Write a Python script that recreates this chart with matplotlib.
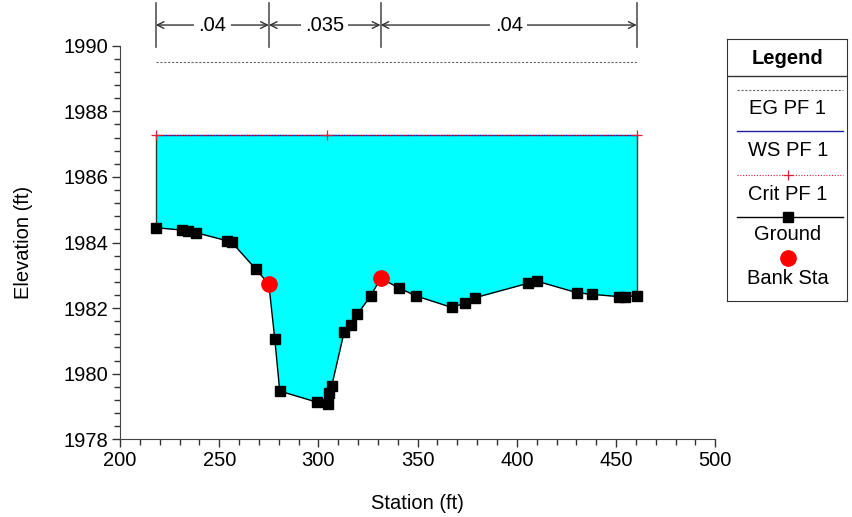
import matplotlib
matplotlib.use('Agg')
import matplotlib.pyplot as plt
import numpy as np
from matplotlib.ticker import MultipleLocator

plt.rcParams['font.family'] = ['Liberation Sans', 'DejaVu Sans']

# ground profile
station = [218.0, 231.1, 234.4, 238.3, 254.1, 256.3, 268.4, 275.0, 278.0, 280.5,
           299.3, 304.7, 305.5, 306.7, 312.9, 316.3, 319.6, 326.4, 331.3, 340.8,
           349.2, 367.2, 373.9, 379.1, 405.8, 410.2, 430.2, 437.7, 451.5, 454.5, 460.4]
elevation = [1984.45, 1984.38, 1984.35, 1984.30, 1984.05, 1984.01, 1983.19, 1982.73, 1981.06, 1979.47,
             1979.13, 1979.08, 1979.40, 1979.63, 1981.26, 1981.49, 1981.81, 1982.38, 1982.91, 1982.61,
             1982.37, 1982.02, 1982.15, 1982.32, 1982.76, 1982.82, 1982.47, 1982.42, 1982.35, 1982.35, 1982.38]

bank_sta = [275.0, 331.3]
bank_elev = [1982.73, 1982.91]

ws_elev = 1987.28
eg_elev = 1989.51
crit_sta = [218.0, 304.5, 460.4]

n_bounds = [218.0, 275.0, 331.3, 460.4]
n_values = ['.04', '.035', '.04']

FS = 14.5

fig = plt.figure(figsize=(8.53, 5.17), dpi=100)
ax = fig.add_axes([120/853, 1 - 439.3/517, 595.3/853, 393.6/517])

x0, x1 = station[0], station[-1]
ax.fill_between(station, elevation, ws_elev, color='#00FFFF', lw=0, zorder=1)
ax.plot([x0, x0], [elevation[0], ws_elev], color='#333333', lw=1, zorder=2)
ax.plot([x1, x1], [elevation[-1], ws_elev], color='#333333', lw=1, zorder=2)

ax.plot([x0, x1], [eg_elev, eg_elev], color='#666666', lw=0.8, ls=(0, (2, 1.5)), zorder=3)
ax.plot([x0, x1], [ws_elev, ws_elev], color='#2020a0', lw=1, zorder=3)
ax.plot(crit_sta, [ws_elev] * len(crit_sta), color='#e0203a', lw=0.8, ls=(0, (1, 1.5)),
        marker='+', ms=7, mew=0.9, zorder=4)

ax.plot(station, elevation, color='black', lw=1, marker='s', ms=6.5, zorder=5)
ax.plot(bank_sta, bank_elev, ls='none', marker='o', ms=11, color='#ff0000', zorder=6)

# manning's n boundaries
for b in n_bounds:
    ax.plot([b, b], [1989.97, 1991.3], color='#555555', lw=1.2, clip_on=False, zorder=7)
for i, n in enumerate(n_values):
    a, b = n_bounds[i], n_bounds[i + 1]
    ax.annotate('', xy=(a, 1990.63), xytext=(b, 1990.63),
                arrowprops=dict(arrowstyle='<->', color='#333333', lw=1, shrinkA=0, shrinkB=0,
                                mutation_scale=12),
                annotation_clip=False)
    ax.text((a + b) / 2, 1990.63, n, ha='center', va='center', fontsize=FS,
            bbox=dict(facecolor='white', edgecolor='none', pad=3), clip_on=False, zorder=8)

ax.set_xlim(200, 500)
ax.set_ylim(1978, 1990)
ax.xaxis.set_major_locator(MultipleLocator(50))
ax.xaxis.set_minor_locator(MultipleLocator(10))
ax.yaxis.set_major_locator(MultipleLocator(2))
ax.yaxis.set_minor_locator(MultipleLocator(0.4))
ax.tick_params(which='major', length=6, width=1, labelsize=FS, color='#333333', pad=2.5)
ax.tick_params(which='minor', length=4, width=1, color='#333333')
for s in ['top', 'right']:
    ax.spines[s].set_visible(False)
for s in ['left', 'bottom']:
    ax.spines[s].set_color('#444444')
ax.set_xlabel('Station (ft)', fontsize=FS, labelpad=17)
ax.set_ylabel('Elevation (ft)', fontsize=FS, labelpad=22)

# legend box drawn in pixel coordinates
lg = fig.add_axes([727/853, 1 - 301/517, 120/853, 262/517])
lg.set_xlim(727, 847)
lg.set_ylim(301, 39)
lg.set_xticks([])
lg.set_yticks([])
for s in lg.spines.values():
    s.set_color('#333333')
cx = 788
lg.text(cx, 58, 'Legend', ha='center', va='center', fontsize=FS, fontweight='bold')
lg.plot([727, 847], [76, 76], color='#333333', lw=1)
lg.plot([737, 843], [90, 90], color='#666666', lw=0.8, ls=(0, (2, 1.5)))
lg.text(cx, 108, 'EG PF 1', ha='center', va='center', fontsize=FS)
lg.plot([737, 843], [131, 131], color='#2020a0', lw=1)
lg.text(cx, 150, 'WS PF 1', ha='center', va='center', fontsize=FS)
lg.plot([737, 843], [175, 175], color='#e0203a', lw=0.8, ls=(0, (1, 1.5)))
lg.plot([cx], [175], marker='+', color='#e0203a', ms=7, mew=0.9)
lg.text(cx, 194, 'Crit PF 1', ha='center', va='center', fontsize=FS)
lg.plot([737, 843], [216.5, 216.5], color='black', lw=1)
lg.plot([cx], [216.5], marker='s', color='black', ms=6.5)
lg.text(cx, 235, 'Ground', ha='center', va='center', fontsize=FS)
lg.plot([cx], [258], marker='o', color='#ff0000', ms=11)
lg.text(cx, 278, 'Bank Sta', ha='center', va='center', fontsize=FS)

fig.savefig('out.png', dpi=100)
